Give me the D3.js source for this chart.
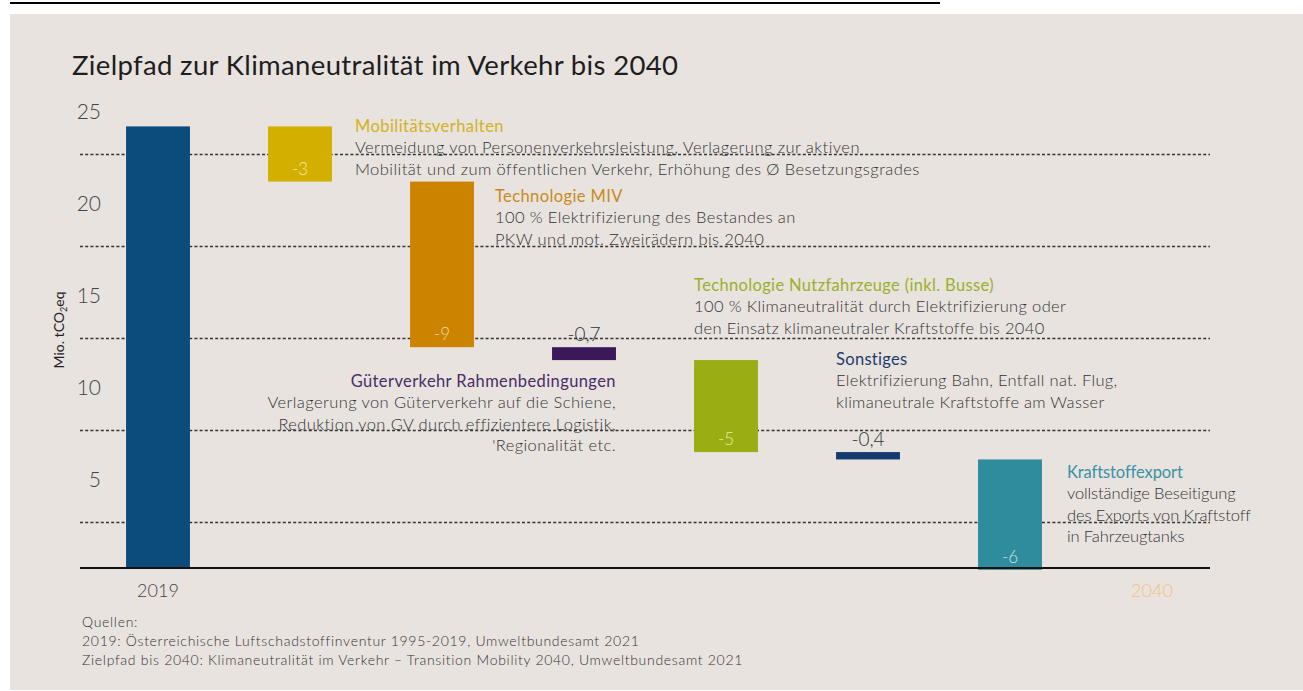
<!DOCTYPE html>
<html>
<head>
<meta charset="utf-8">
<script src="https://cdn.jsdelivr.net/npm/d3@7"></script>
<style>
  body { margin: 0; background: #fff; }
  svg { display: block; font-family: Lato, "Open Sans", sans-serif; }
</style>
</head>
<body>
<div id="chart"></div>
<script>
const width = 1303;
const height = 691;

// data
const categories = ['2019', 'Mobilitätsverhalten', 'Technologie MIV', 'Güterverkehr', 'Nutzfahrzeuge', 'Sonstiges', 'Kraftstoffexport', '2040'];
const startValue = 24;
const changes = [-3, -9, -0.7, -5, -0.4, -6];
const changeLabels = ['-3', '-9', '-0,7', '-5', '-0,4', '-6'];
const yTicks = [5, 10, 15, 20, 25];
const gridValues = [2.5, 7.5, 12.5, 17.5, 22.5];

const noteTitles = [
  'Mobilitätsverhalten',
  'Technologie MIV',
  'Güterverkehr Rahmenbedingungen',
  'Technologie Nutzfahrzeuge (inkl. Busse)',
  'Sonstiges',
  'Kraftstoffexport'
];
const noteLines = [
  ['Vermeidung von Personenverkehrsleistung, Verlagerung zur aktiven', 'Mobilität und zum öffentlichen Verkehr, Erhöhung des Ø Besetzungsgrades'],
  ['100 % Elektrifizierung des Bestandes an', 'PKW und mot. Zweirädern bis 2040'],
  ['Verlagerung von Güterverkehr auf die Schiene,', 'Reduktion von GV durch effizientere Logistik,', '\'Regionalität etc.'],
  ['100 % Klimaneutralität durch Elektrifizierung oder', 'den Einsatz klimaneutraler Kraftstoffe bis 2040'],
  ['Elektrifizierung Bahn, Entfall nat. Flug,', 'klimaneutrale Kraftstoffe am Wasser'],
  ['vollständige Beseitigung', 'des Exports von Kraftstoff', 'in Fahrzeugtanks']
];
const sources = [
  'Quellen:',
  '2019: Österreichische Luftschadstoffinventur 1995-2019, Umweltbundesamt 2021',
  'Zielpfad bis 2040: Klimaneutralität im Verkehr – Transition Mobility 2040, Umweltbundesamt 2021'
];

// styles
const barColors = ['#0b4c7d', '#d3b000', '#cc8400', '#3b1858', '#9aad12', '#143a6e', '#2e8c9d'];
const titleColors = ['#d4b21c', '#c98a1c', '#4a2c68', '#9bb02a', '#1e3c6c', '#3a92a2'];
const innerLabelColors = ['#f4e8a8', '#f6d8a0', null, '#e6eea0', null, '#c8e4ea'];

// waterfall pieces
let running = startValue;
const bars = [{ cat: categories[0], y0: 0, y1: startValue }];
changes.forEach((c, i) => {
  const top = running;
  running = running + c;
  bars.push({ cat: categories[i + 1], y0: running, y1: top, label: changeLabels[i] });
});

const x = d3.scaleBand()
  .domain(categories)
  .range([87, 1223])
  .paddingInner(0.55)
  .paddingOuter(0.275);

const y = d3.scaleLinear()
  .domain([0, 25])
  .range([568, 108]);

const svg = d3.select('#chart').append('svg')
  .attr('width', width)
  .attr('height', height);

// cropped line at top and panel
svg.append('line')
  .attr('x1', 10).attr('x2', 940)
  .attr('y1', 3).attr('y2', 3)
  .attr('stroke', '#000')
  .attr('stroke-width', 2);

svg.append('rect')
  .attr('x', 10).attr('y', 14)
  .attr('width', width - 10).attr('height', 676)
  .attr('fill', '#e8e3df');

svg.append('text')
  .attr('x', 72).attr('y', 75)
  .attr('font-size', 27.5)
  .attr('letter-spacing', 0.35)
  .attr('fill', '#1e1e1e')
  .text('Zielpfad zur Klimaneutralität im Verkehr bis 2040');

// dotted grid
const gridLeft = 80;
const gridRight = 1210;
svg.append('g')
  .attr('class', 'grid')
  .attr('transform', `translate(${gridLeft},0)`)
  .call(d3.axisLeft(y).tickValues(gridValues).tickSize(-(gridRight - gridLeft)).tickFormat(''))
  .call(g => g.select('.domain').remove())
  .call(g => g.selectAll('line')
    .attr('stroke', '#333')
    .attr('stroke-width', 1.3)
    .attr('stroke-dasharray', '3,2.2'));

// tick labels
svg.append('g')
  .attr('transform', 'translate(101,4)')
  .call(d3.axisLeft(y).tickValues(yTicks).tickSize(0).tickPadding(0))
  .call(g => g.select('.domain').remove())
  .call(g => g.selectAll('text')
    .attr('font-family', 'Lato, sans-serif')
    .attr('font-size', 21)
    .attr('font-weight', 300)
    .attr('fill', '#444'));

// y axis title
const yTitle = svg.append('text')
  .attr('transform', 'translate(64,330) rotate(-90)')
  .attr('text-anchor', 'middle')
  .attr('font-size', 14)
  .attr('fill', '#222');
yTitle.append('tspan').text('Mio. tCO');
yTitle.append('tspan').attr('font-size', 9).attr('dy', 3).text('2');
yTitle.append('tspan').attr('dy', -3).text('eq');

// bars
svg.append('g')
  .selectAll('rect')
  .data(bars)
  .join('rect')
  .attr('x', d => x(d.cat))
  .attr('width', x.bandwidth())
  .attr('y', d => y(d.y1))
  .attr('height', d => y(d.y0) - y(d.y1))
  .attr('fill', (d, i) => barColors[i]);

// baseline
svg.append('line')
  .attr('x1', gridLeft).attr('x2', gridRight)
  .attr('y1', y(0)).attr('y2', y(0))
  .attr('stroke', '#111')
  .attr('stroke-width', 2);

// value labels
bars.slice(1).forEach((d, i) => {
  const inside = innerLabelColors[i] !== null;
  svg.append('text')
    .attr('x', x(d.cat) + x.bandwidth() / 2)
    .attr('y', inside ? y(d.y0) - 7 : y(d.y1) - 6)
    .attr('text-anchor', 'middle')
    .attr('font-size', inside ? 17 : 19)
    .attr('font-weight', 300)
    .attr('fill', inside ? innerLabelColors[i] : '#333')
    .text(d.label);
});

// x labels
svg.append('text')
  .attr('x', x('2019') + x.bandwidth() / 2).attr('y', 597)
  .attr('text-anchor', 'middle')
  .attr('font-size', 18).attr('font-weight', 300)
  .attr('fill', '#444')
  .text('2019');

svg.append('text')
  .attr('x', x('2040') + x.bandwidth() / 2).attr('y', 597)
  .attr('text-anchor', 'middle')
  .attr('font-size', 18).attr('font-weight', 300)
  .attr('fill', '#f1c27a')
  .text('2040');

// annotations: anchor x, title baseline, text-anchor, letter spacing
const bw = x.bandwidth();
const noteLayout = [
  { x: x(categories[1]) + bw + 23, y: 132, anchor: 'start', ls: 0.45 },
  { x: x(categories[2]) + bw + 21, y: 202, anchor: 'start', ls: 0.4 },
  { x: x(categories[3]) + bw, y: 387, anchor: 'end', ls: 0.4 },
  { x: x(categories[4]), y: 291, anchor: 'start', ls: 0.35 },
  { x: x(categories[5]), y: 365, anchor: 'start', ls: 0.3 },
  { x: x(categories[6]) + bw + 25, y: 478, anchor: 'start', ls: -0.1 }
];

noteTitles.forEach((t, i) => {
  const pos = noteLayout[i];
  const g = svg.append('g').attr('text-anchor', pos.anchor);
  g.append('text')
    .attr('x', pos.x).attr('y', pos.y)
    .attr('font-size', 16.5)
    .attr('letter-spacing', pos.ls)
    .attr('fill', titleColors[i])
    .text(t);
  noteLines[i].forEach((line, j) => {
    g.append('text')
      .attr('x', pos.x).attr('y', pos.y + 21.3 * (j + 1))
      .attr('font-size', 16.5)
      .attr('letter-spacing', pos.ls)
      .attr('font-weight', 300)
      .attr('fill', '#333')
      .text(line);
  });
});

// sources
sources.forEach((s, i) => {
  svg.append('text')
    .attr('x', 82).attr('y', 627 + i * 19)
    .attr('font-size', 14)
    .attr('letter-spacing', 0.7)
    .attr('font-weight', 300)
    .attr('fill', '#333')
    .text(s);
});
</script>
</body>
</html>
